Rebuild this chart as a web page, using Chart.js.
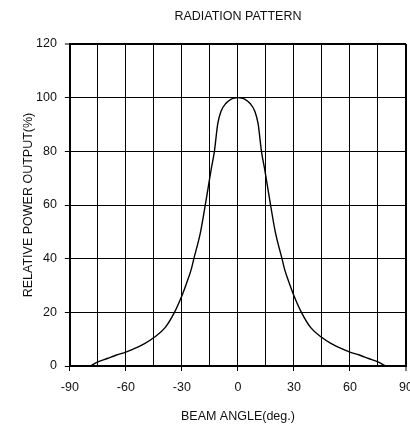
<!DOCTYPE html>
<html>
<head>
<meta charset="utf-8">
<script src="https://cdn.jsdelivr.net/npm/chart.js@4/dist/chart.umd.min.js"></script>
<style>
html, body { margin: 0; padding: 0; background: #fff; }
#wrap { width: 410px; height: 424px; }
</style>
</head>
<body>
<div id="wrap"><canvas id="pattern"></canvas></div>
<script>
// beam angle (deg) and relative power (%)
const angles = [-79, -75, -70, -65, -60, -57, -50, -45, -39, -34, -30, -27.7, -25, -23.6, -20, -17, -14.4, -12.6, -10.8, -9, -6.4, -3.8, -1.8, 0,
                1.8, 3.8, 6.4, 9, 10.8, 12.6, 14.4, 17, 20, 23.6, 25, 27.7, 30, 34, 39, 45, 50, 57, 60, 65, 70, 75, 79]
const power = [0, 1.5, 2.8, 4.1, 5.2, 6.0, 8.3, 10.6, 14.3, 20, 26.2, 30.5, 36, 40, 50, 62, 73, 80, 90.3, 95, 97.9, 99.4, 99.85, 100,
               99.85, 99.4, 97.9, 95, 90.3, 80, 73, 62, 50, 40, 36, 30.5, 26.2, 20, 14.3, 10.6, 8.3, 6.0, 5.2, 4.1, 2.8, 1.5, 0]

const xLabels = [-90, -60, -30, 0, 30, 60, 90]
const yLabels = [0, 20, 40, 60, 80, 100, 120]

const font = { family: "'Liberation Sans', Arial, sans-serif", size: 12.5 }

const points = angles.map((a, i) => ({ x: a, y: power[i] }))

new Chart(document.getElementById('pattern'), {
    type: 'scatter',
    data: {
        datasets: [{
            data: points,
            showLine: true,
            borderColor: '#000',
            borderWidth: 1.4,
            pointRadius: 0,
            cubicInterpolationMode: 'monotone'
        }]
    },
    options: {
        responsive: true,
        maintainAspectRatio: false,
        animation: false,
        devicePixelRatio: 1,
        layout: { padding: { left: 19, right: 4, top: 5, bottom: 0 } },
        plugins: {
            legend: { display: false },
            tooltip: { enabled: false },
            title: {
                display: true,
                text: 'RADIATION PATTERN',
                fullSize: false,
                color: '#111',
                font: { ...font, weight: 'normal' },
                padding: { top: 4, bottom: 20 }
            }
        },
        scales: {
            x: {
                type: 'linear',
                min: -90,
                max: 90,
                afterFit: scale => { scale.paddingRight = 0 },
                ticks: {
                    stepSize: 15,
                    padding: 9,
                    color: '#111',
                    font: font,
                    maxRotation: 0,
                    autoSkip: false,
                    callback: v => xLabels.includes(v) ? String(v) : ''
                },
                grid: {
                    color: '#000',
                    lineWidth: ctx => ctx.tick && ctx.tick.value === 90 ? 2 : 1,
                    tickLength: 5,
                    tickWidth: 1,
                    tickColor: ctx => ctx.tick && xLabels.includes(ctx.tick.value) ? '#000' : 'rgba(0,0,0,0)'
                },
                border: { color: '#000', width: 2 },
                title: {
                    display: true,
                    text: 'BEAM ANGLE(deg.)',
                    color: '#111',
                    font: font,
                    padding: { top: 5, bottom: 0 }
                }
            },
            y: {
                min: 0,
                max: 120,
                ticks: {
                    stepSize: 20,
                    padding: 8,
                    color: '#111',
                    font: font,
                    callback: v => yLabels.includes(v) ? String(v) : ''
                },
                grid: {
                    color: '#000',
                    lineWidth: ctx => ctx.tick && ctx.tick.value === 120 ? 2 : 1,
                    tickLength: 5,
                    tickWidth: 1,
                    tickColor: '#000'
                },
                border: { color: '#000', width: 2 },
                title: {
                    display: true,
                    text: 'RELATIVE POWER OUTPUT(%)',
                    color: '#111',
                    font: font,
                    padding: { top: 2, bottom: -8 }
                }
            }
        }
    }
})
</script>
</body>
</html>
